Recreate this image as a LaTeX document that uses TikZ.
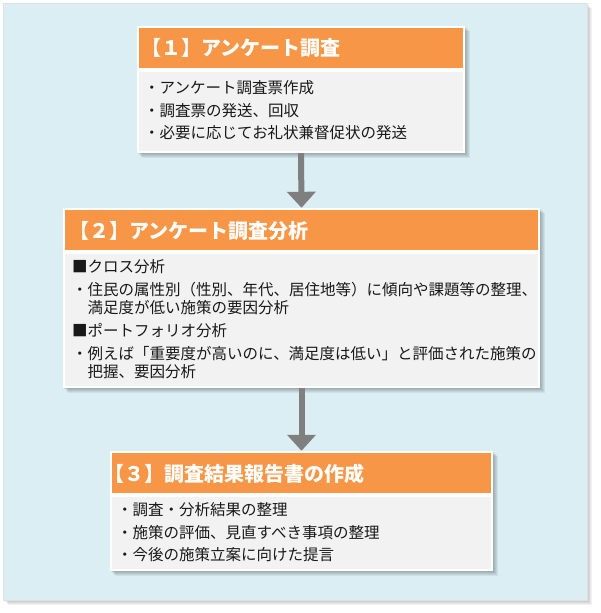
\documentclass[tikz,border=0pt]{standalone}
\usepackage{fontspec}
\setmainfont{Noto Sans CJK JP}
\usetikzlibrary{arrows.meta}
\definecolor{panelblue}{HTML}{DAEEF3}
\definecolor{headorange}{HTML}{F79646}
\definecolor{bodygray}{HTML}{F2F2F2}
\definecolor{arrowgray}{HTML}{7F7F7F}

\begin{document}
\begin{tikzpicture}[x=1pt,y=-1pt,
    frame/.style={fill=white,inner sep=0pt},
    head/.style={fill=headorange,inner sep=0pt,minimum height=40pt},
    body/.style={fill=bodygray,inner sep=0pt},
    title/.style={anchor=west,inner sep=0pt,text=white,font=\fontsize{20}{24}\selectfont\bfseries},
    item/.style={anchor=west,inner sep=0pt,align=left,text=black!90,font=\fontsize{15.5}{18.5}\selectfont},
    flow/.style={arrowgray,line width=6pt,-{Triangle[width=28pt,length=16pt]}}]
                \useasboundingbox (0,0) rectangle (600,613);
                \foreach \s in {1,...,5}
                    \fill[black,opacity=0.05] (3+\s,3+\s) rectangle (587+\s,600+\s);
                \fill[panelblue,draw=black!12,line width=0.8pt] (3,3) rectangle (587,600);
                \foreach \xa/\ya/\xb/\yb in {137/26/465/153,63/208/540/388,110/451/493/571}
                    \foreach \s in {1,...,5}
                        \fill[black,opacity=0.06] (\xa+\s,\ya+\s) rectangle (\xb+\s,\yb+\s);
                \node[frame,minimum width=328pt,minimum height=127pt] (box1) at (301,89.5) {};
                \node[head,minimum width=324pt] (head1) at (301,48) {};
                \node[body,minimum width=324pt,minimum height=79pt] (body1) at (301,111.5) {};
                \node[title] (t1) at (141,48) {【１】アンケート調査};
                \node[item] (i11) at (144,88) {・アンケート調査票作成};
                \node[item] (i12) at (144,111) {・調査票の発送、回収};
                \node[item] (i13) at (144,133) {・必要に応じてお礼状兼督促状の発送};
                \node[frame,minimum width=477pt,minimum height=180pt] (box2) at (301.5,298) {};
                \node[head,minimum width=473pt] (head2) at (301.5,230) {};
                \node[body,minimum width=473pt,minimum height=132pt] (body2) at (301.5,320) {};
                \node[title] (t2) at (69,231) {【２】アンケート調査分析};
                \node[item] (i21) at (72,266.5) {■クロス分析};
                \node[item] (i22) at (72,298.5) {・住民の属性別（性別、年代、居住地等）に傾向や課題等の整理、\\\hspace*{1em}満足度が低い施策の要因分析};
                \node[item] (i23) at (72,331) {■ポートフォリオ分析};
                \node[item] (i24) at (72,362.5) {・例えば「重要度が高いのに、満足度は低い」と評価された施策の\\\hspace*{1em}把握、要因分析};
                \node[frame,minimum width=383pt,minimum height=120pt] (box3) at (301.5,511) {};
                \node[head,minimum width=379pt] (head3) at (301.5,473) {};
                \node[body,minimum width=379pt,minimum height=72pt] (body3) at (301.5,533) {};
                \node[title] (t3) at (104,474) {【３】調査結果報告書の作成};
                \node[item] (i31) at (117,510) {・調査・分析結果の整理};
                \node[item] (i32) at (117,533) {・施策の評価、見直すべき事項の整理};
                \node[item] (i33) at (117,555) {・今後の施策立案に向けた提言};
                \draw[flow] (box1.south) -- (box2.north);
                \draw[flow] (box2.south) -- (box3.north);
            \end{tikzpicture}
\end{document}
